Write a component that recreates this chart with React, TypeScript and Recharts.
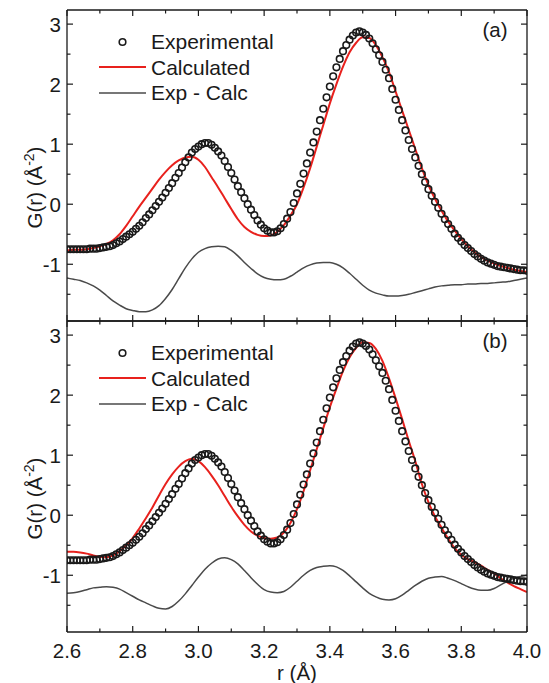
import React from "react";
import { ComposedChart, Line, XAxis, YAxis, Legend, Label } from "recharts";

const FONT = "'Liberation Sans', Arial, Helvetica, sans-serif";
const INK = "#1a1a1a";
const RED = "#e8211d";
const GREY = "#4a4a4a";

// r grid: experimental points every 0.01 Å, fitted curves every 0.02 Å
const R_START = 2.6;
const EXP_STEP = 0.01;
const FIT_STEP = 0.02;

// G(r) experimental, 2.60 .. 4.00 (same data in both panels)
const experimental = [
  -0.75, -0.75, -0.75, -0.75, -0.75, -0.75, -0.75, -0.74, -0.74, -0.74,
  -0.73, -0.72, -0.71, -0.70, -0.68, -0.65, -0.62, -0.58, -0.54, -0.50,
  -0.46, -0.41, -0.36, -0.30, -0.23, -0.17, -0.10, -0.03, 0.04, 0.11,
  0.19, 0.27, 0.35, 0.44, 0.52, 0.61, 0.70, 0.78, 0.86, 0.92,
  0.96, 1.00, 1.02, 1.02, 0.99, 0.94, 0.88, 0.81, 0.72, 0.62,
  0.52, 0.41, 0.30, 0.20, 0.10, 0.00, -0.09, -0.18, -0.27, -0.34,
  -0.40, -0.44, -0.47, -0.47, -0.45, -0.40, -0.33, -0.24, -0.13, 0.02,
  0.18, 0.34, 0.51, 0.68, 0.86, 1.03, 1.21, 1.40, 1.59, 1.78,
  1.96, 2.13, 2.28, 2.42, 2.55, 2.65, 2.74, 2.81, 2.86, 2.88,
  2.86, 2.82, 2.76, 2.68, 2.58, 2.48, 2.37, 2.24, 2.10, 1.92,
  1.74, 1.57, 1.40, 1.23, 1.07, 0.92, 0.78, 0.64, 0.50, 0.37,
  0.25, 0.14, 0.04, -0.06, -0.16, -0.25, -0.33, -0.41, -0.49, -0.56,
  -0.62, -0.68, -0.73, -0.78, -0.83, -0.87, -0.91, -0.94, -0.97, -0.99,
  -1.01, -1.03, -1.04, -1.05, -1.06, -1.07, -1.08, -1.09, -1.10, -1.10,
  -1.11,
];

// panel (a)
const calculatedA = [
  -0.77, -0.76, -0.76, -0.75, -0.73, -0.70, -0.66, -0.60, -0.50, -0.36,
  -0.20, -0.04, 0.11, 0.26, 0.41, 0.54, 0.65, 0.73, 0.78, 0.79,
  0.74, 0.62, 0.45, 0.28, 0.10, -0.08, -0.25, -0.38, -0.46, -0.51,
  -0.53, -0.52, -0.46, -0.35, -0.19, 0.0, 0.28, 0.60, 0.96, 1.32,
  1.68, 2.00, 2.29, 2.53, 2.69, 2.78, 2.77, 2.65, 2.45, 2.20,
  1.88, 1.56, 1.24, 0.92, 0.60, 0.32, 0.09, -0.11, -0.29, -0.44,
  -0.58, -0.70, -0.80, -0.88, -0.94, -0.99, -1.03, -1.06, -1.09, -1.11,
  -1.13,
];
const differenceA = [
  -1.23, -1.25, -1.27, -1.31, -1.36, -1.43, -1.52, -1.61, -1.68, -1.74,
  -1.77, -1.79, -1.79, -1.76, -1.69, -1.57, -1.42, -1.24, -1.06, -0.91,
  -0.80, -0.74, -0.71, -0.70, -0.71, -0.77, -0.86, -0.97, -1.07, -1.16,
  -1.22, -1.25, -1.26, -1.25, -1.20, -1.13, -1.06, -1.01, -0.98, -0.97,
  -0.97, -1.00, -1.06, -1.15, -1.25, -1.35, -1.43, -1.48, -1.51, -1.53,
  -1.53, -1.52, -1.50, -1.47, -1.44, -1.41, -1.38, -1.36, -1.35, -1.34,
  -1.34, -1.33, -1.33, -1.32, -1.32, -1.31, -1.30, -1.29, -1.27, -1.25,
  -1.23,
];

// panel (b)
const calculatedB = [
  -0.61, -0.61, -0.62, -0.64, -0.67, -0.69, -0.70, -0.67, -0.60, -0.50,
  -0.38, -0.22, -0.05, 0.13, 0.33, 0.52, 0.68, 0.81, 0.90, 0.94,
  0.90, 0.80, 0.66, 0.50, 0.32, 0.14, -0.02, -0.16, -0.27, -0.34,
  -0.38, -0.39, -0.37, -0.29, -0.13, 0.10, 0.40, 0.75, 1.10, 1.45,
  1.80, 2.11, 2.40, 2.63, 2.79, 2.88, 2.87, 2.77, 2.57, 2.28,
  1.95, 1.60, 1.24, 0.90, 0.52, 0.22, -0.02, -0.21, -0.39, -0.55,
  -0.66, -0.73, -0.78, -0.84, -0.91, -0.97, -1.05, -1.12, -1.18, -1.23,
  -1.28,
];
const differenceB = [
  -1.30, -1.29, -1.27, -1.24, -1.21, -1.20, -1.19, -1.20, -1.23, -1.29,
  -1.35, -1.41, -1.46, -1.51, -1.55, -1.56, -1.52, -1.43, -1.31, -1.17,
  -1.03, -0.90, -0.80, -0.73, -0.71, -0.74, -0.81, -0.92, -1.04, -1.15,
  -1.24, -1.28, -1.29, -1.27, -1.20, -1.10, -1.00, -0.92, -0.87, -0.85,
  -0.84, -0.86, -0.92, -1.01, -1.11, -1.21, -1.30, -1.36, -1.40, -1.41,
  -1.39, -1.33, -1.25, -1.17, -1.10, -1.05, -1.03, -1.02, -1.05, -1.09,
  -1.14, -1.19, -1.23, -1.25, -1.25, -1.22, -1.16, -1.10, -1.05, -1.02,
  -1.00,
];

const xTicks = [2.6, 2.7, 2.8, 2.9, 3.0, 3.1, 3.2, 3.3, 3.4, 3.5, 3.6, 3.7, 3.8, 3.9, 4.0];
const yTicks = [-1.5, -1, -0.5, 0, 0.5, 1, 1.5, 2, 2.5, 3];
const seriesNames = ["Experimental", "Calculated", "Exp - Calc"];

const X_DOMAIN: [number, number] = [2.6, 4.0];
const Y_DOMAIN: [number, number] = [-1.945, 3.235];

const toRows = (values: number[], step: number) =>
  values.map((g, i) => ({ r: +(R_START + i * step).toFixed(2), g }));

const expRows = toRows(experimental, EXP_STEP);

const isMajorX = (v: number) => Math.round(v * 10) % 2 === 0;

function xTick(showLabel: boolean, dir: number) {
  return (props: any) => {
    const { x, y, payload } = props;
    const v = payload.value;
    const major = isMajorX(v);
    const len = major ? 6 : 3.5;
    return (
      <g>
        <line x1={x} x2={x} y1={y} y2={y - dir * len} stroke={INK} strokeWidth={1.2} />
        {showLabel && major && (
          <text x={x} y={y + 26} textAnchor="middle" fontSize={20.5} fontFamily={FONT} fill={INK}>
            {v.toFixed(1)}
          </text>
        )}
      </g>
    );
  };
}

function yTick(showLabel: boolean, dir: number) {
  return (props: any) => {
    const { x, y, payload } = props;
    const v = payload.value;
    const major = Number.isInteger(v);
    const len = major ? 6 : 3.5;
    return (
      <g>
        <line x1={x} x2={x + dir * len} y1={y} y2={y} stroke={INK} strokeWidth={1.2} />
        {showLabel && major && (
          <text x={x - 6} y={y + 7.5} textAnchor="end" fontSize={20.5} fontFamily={FONT} fill={INK}>
            {String(v)}
          </text>
        )}
      </g>
    );
  };
}

function LegendBox() {
  return (
    <div style={{ fontFamily: FONT, fontSize: 21, color: INK }}>
      {seriesNames.map((name, i) => (
        <div key={name} style={{ display: "flex", alignItems: "center", height: 25.5 }}>
          <svg width={47} height={12} style={{ marginRight: 5 }}>
            {i === 0 ? (
              <circle cx={23.5} cy={6} r={3.3} fill="none" stroke={INK} strokeWidth={1.6} />
            ) : (
              <line x1={0} x2={47} y1={6} y2={6} stroke={i === 1 ? RED : GREY} strokeWidth={i === 1 ? 2 : 1.5} />
            )}
          </svg>
          <span style={{ lineHeight: "25.5px" }}>{name}</span>
        </div>
      ))}
    </div>
  );
}

type PanelProps = {
  tag: string;
  calculated: number[];
  difference: number[];
  plotTop: number;
  plotBottom: number;
  showXLabels: boolean;
};

function Panel({ tag, calculated, difference, plotTop, plotBottom, showXLabels }: PanelProps) {
  const W = 549;
  const H = 683;
  const calcRows = toRows(calculated, FIT_STEP);
  const diffRows = toRows(difference, FIT_STEP);
  return (
    <div style={{ position: "absolute", left: 0, top: 0 }}>
      <ComposedChart
        width={W}
        height={H}
        margin={{ top: plotTop - 1, bottom: H - plotBottom - 1, left: 66, right: 21 }}
      >
        <XAxis
          xAxisId="bottom"
          dataKey="r"
          type="number"
          domain={X_DOMAIN}
          allowDataOverflow
          ticks={xTicks}
          interval={0}
          height={1}
          tickSize={0}
          tickMargin={0}
          tickLine={false}
          stroke={INK}
          strokeWidth={1.3}
          tick={xTick(showXLabels, 1)}
        >
          {showXLabels && (
            <Label
              content={(p: any) => {
                const vb = p.viewBox;
                return (
                  <text x={vb.x + vb.width / 2} y={vb.y + 48} textAnchor="middle" fontSize={20.5} fontFamily={FONT} fill={INK}>
                    r (Å)
                  </text>
                );
              }}
            />
          )}
        </XAxis>
        <XAxis
          xAxisId="top"
          orientation="top"
          dataKey="r"
          type="number"
          domain={X_DOMAIN}
          allowDataOverflow
          ticks={xTicks}
          interval={0}
          height={1}
          tickSize={0}
          tickMargin={0}
          tickLine={false}
          stroke={INK}
          strokeWidth={1.3}
          tick={xTick(false, -1)}
        />
        <YAxis
          yAxisId="left"
          type="number"
          domain={Y_DOMAIN}
          allowDataOverflow
          ticks={yTicks}
          interval={0}
          width={1}
          tickSize={0}
          tickMargin={0}
          tickLine={false}
          stroke={INK}
          strokeWidth={1.3}
          tick={yTick(true, 1)}
        >
          <Label
            content={(p: any) => {
              const vb = p.viewBox;
              const cx = 42;
              const cy = vb.y + vb.height / 2 + 22;
              return (
                <text
                  x={cx}
                  y={cy}
                  transform={`rotate(-90, ${cx}, ${cy})`}
                  textAnchor="middle"
                  fontSize={20.5}
                  fontFamily={FONT}
                  fill={INK}
                >
                  G(r) (Å
                  <tspan dy={-8} fontSize={14}>-2</tspan>
                  <tspan dy={8}>)</tspan>
                </text>
              );
            }}
          />
        </YAxis>
        <YAxis
          yAxisId="right"
          orientation="right"
          type="number"
          domain={Y_DOMAIN}
          allowDataOverflow
          ticks={yTicks}
          interval={0}
          width={1}
          tickSize={0}
          tickMargin={0}
          tickLine={false}
          stroke={INK}
          strokeWidth={1.3}
          tick={yTick(false, -1)}
        >
          <Label
            content={(p: any) => {
              const vb = p.viewBox;
              return (
                <text x={vb.x - 32} y={vb.y + 27} textAnchor="middle" fontSize={20.5} fontFamily={FONT} fill={INK}>
                  {tag}
                </text>
              );
            }}
          />
        </YAxis>
        <Legend
          layout="vertical"
          align="center"
          verticalAlign="middle"
          wrapperStyle={{ top: plotTop + 19, left: 99, width: "auto" }}
          content={() => <LegendBox />}
        />
        <Line
          xAxisId="bottom"
          yAxisId="left"
          data={expRows}
          dataKey="g"
          name={seriesNames[0]}
          stroke="none"
          dot={{ r: 3.3, fill: "none", stroke: INK, strokeWidth: 1.6 }}
          activeDot={false}
          isAnimationActive={false}
        />
        <Line
          xAxisId="bottom"
          yAxisId="left"
          data={calcRows}
          dataKey="g"
          name={seriesNames[1]}
          type="monotone"
          stroke={RED}
          strokeWidth={2}
          dot={false}
          activeDot={false}
          isAnimationActive={false}
        />
        <Line
          xAxisId="bottom"
          yAxisId="left"
          data={diffRows}
          dataKey="g"
          name={seriesNames[2]}
          type="monotone"
          stroke={GREY}
          strokeWidth={1.5}
          dot={false}
          activeDot={false}
          isAnimationActive={false}
        />
      </ComposedChart>
    </div>
  );
}

export default function App() {
  return (
    <div style={{ position: "absolute", left: 0, top: 0, width: 549, height: 683, background: "#fff" }}>
      <Panel tag="(a)" calculated={calculatedA} difference={differenceA} plotTop={10} plotBottom={321} showXLabels={false} />
      <Panel tag="(b)" calculated={calculatedB} difference={differenceB} plotTop={321} plotBottom={632} showXLabels />
    </div>
  );
}
